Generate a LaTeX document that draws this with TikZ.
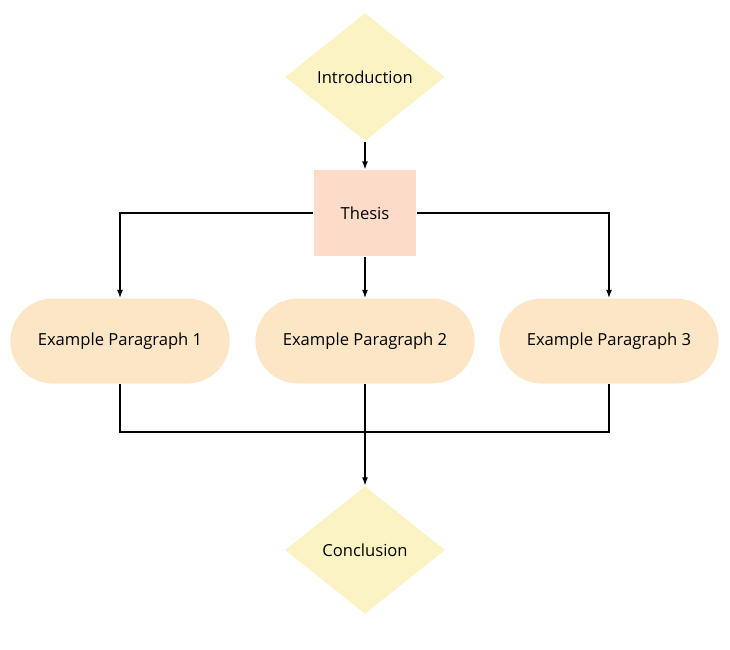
\documentclass[tikz,border=0pt]{standalone}
\usepackage{fontspec}
\setmainfont{Open Sans}
\usetikzlibrary{shapes.geometric,shapes.misc,arrows.meta}
\definecolor{introyellow}{HTML}{FCF3C4}
\definecolor{thesispink}{HTML}{FDDBC9}
\definecolor{paraorange}{HTML}{FCE6C6}
\tikzset{
  >={Latex[length=8pt,width=6pt]},
  decision/.style={diamond, fill=introyellow, minimum width=160pt, minimum height=128pt, inner sep=0pt},
  thesisbox/.style={rectangle, fill=thesispink, minimum width=102pt, minimum height=86pt},
  parabox/.style={rounded rectangle, fill=paraorange, minimum width=226pt, minimum height=85pt}
}
\begin{document}
\begin{tikzpicture}[x=1pt, y=-1pt, font=\fontsize{16.6}{20}\selectfont, line width=1.2pt]
    \useasboundingbox (0,0) rectangle (730,649);
    \node[decision] (intro) at (365,77) {Introduction};
    \node[thesisbox] (thesis) at (365,213) {Thesis};
    \node[parabox] (para1) at (120,341) {Example Paragraph 1};
    \node[parabox] (para2) at (365,341) {Example Paragraph 2};
    \node[parabox] (para3) at (609,341) {Example Paragraph 3};
    \node[decision] (concl) at (365,550) {Conclusion};
    \coordinate (join) at (365,432);
		\draw[->] (intro.south) -- (thesis.north);
		\draw[->] (thesis.west) -| (para1.north);
		\draw[->] (thesis.south) -- (para2.north);
		\draw[->] (thesis.east) -| (para3.north);
		\draw (para1.south) |- (join) -| (para3.south);
		\draw[->] (para2.south) -- (concl.north);
\end{tikzpicture}
\end{document}
